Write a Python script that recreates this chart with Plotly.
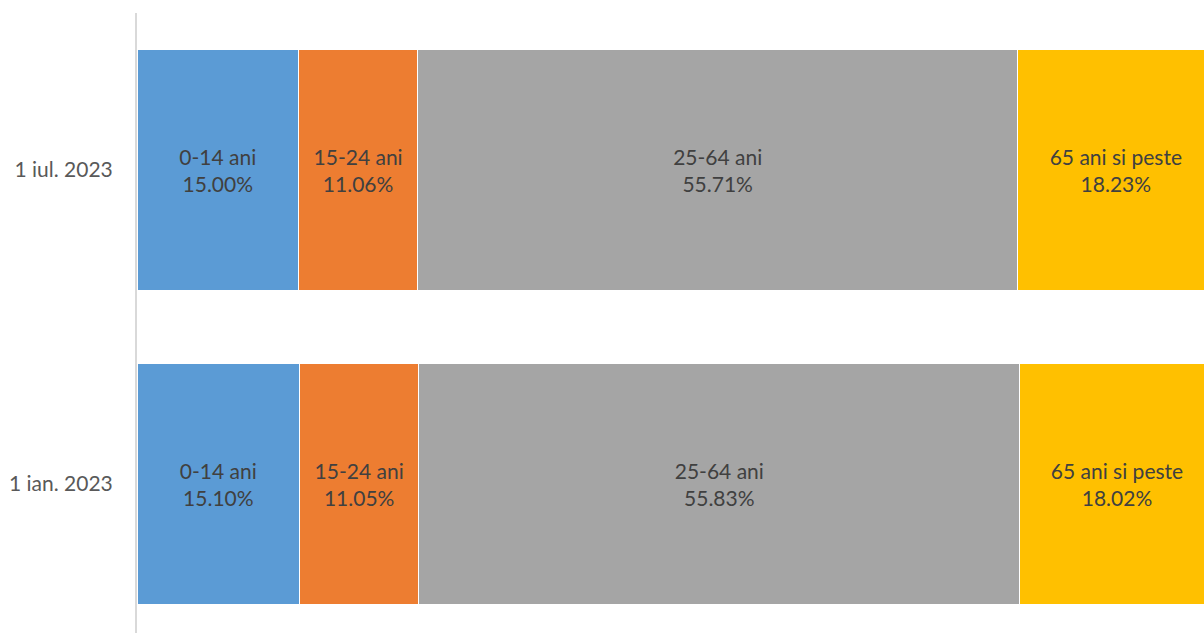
import plotly.graph_objects as go

categories = ["1 ian. 2023", "1 iul. 2023"]
groups = ["0-14 ani", "15-24 ani", "25-64 ani", "65 ani si peste"]
values = {
    "0-14 ani": [15.10, 15.00],
    "15-24 ani": [11.05, 11.06],
    "25-64 ani": [55.83, 55.71],
    "65 ani si peste": [18.02, 18.23],
}
colors = ["#5B9BD5", "#ED7D31", "#A5A5A5", "#FFC000"]

fig = go.Figure()
for g, c in zip(groups, colors):
    fig.add_trace(go.Bar(
        y=categories, x=values[g], orientation="h", name=g,
        marker=dict(color=c, line=dict(color="white", width=1)),
        text=[f"{g}<br>{v:.2f}%" for v in values[g]],
        texttemplate="%{text}", textposition="inside",
        insidetextanchor="middle", textangle=0,
        textfont=dict(family="Lato", size=21, color="#404040"),
        hoverinfo="skip",
    ))

fig.update_layout(
    barmode="stack", bargap=0.232, width=1204, height=633,
    margin=dict(l=137, r=0, t=13, b=0),
    plot_bgcolor="white", paper_bgcolor="white", showlegend=False,
    uniformtext=dict(minsize=21, mode="show"),
)
# the reference chart is cropped at the right edge, so the visible range ends just short of 100 %
fig.update_xaxes(range=[0, 99.07], visible=False)
fig.update_yaxes(
    type="category", range=[-0.4745, 1.5], showline=True,
    linecolor="#D9D9D9", linewidth=2, showgrid=False, ticks="",
    ticklabelstandoff=18,
    tickfont=dict(family="Lato", size=21, color="#595959"),
)
post = (
    "document.body.style.margin='0';"
    "document.body.style.padding='0';"
    "document.body.style.overflow='hidden';"
    "var gd=document.getElementById('{plot_id}');"
    "Plotly.relayout(gd,{width:1204,height:633});"
)
fig.write_html("out.html", post_script=post, config={"displayModeBar": False})
